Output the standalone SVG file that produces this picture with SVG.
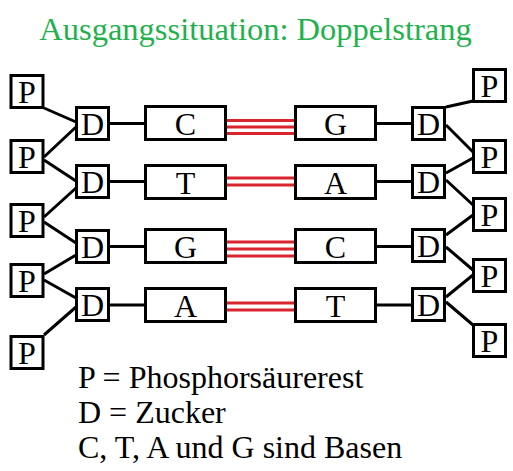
<svg xmlns="http://www.w3.org/2000/svg" width="513" height="471" viewBox="0 0 513 471">
<style>
.b{fill:#fff;stroke:#000;stroke-width:3}
.t{font-family:'Liberation Serif','DejaVu Serif',serif;font-size:32px;fill:#000;text-anchor:middle}
.c{stroke:#000;stroke-width:3;fill:none}
.h{stroke:#d9262e;stroke-width:3;fill:none}
.lg{font-family:'Liberation Serif','DejaVu Serif',serif;font-size:32px;fill:#000}
.ti{font-family:'Liberation Serif','DejaVu Serif',serif;font-size:32.5px;fill:#22b14c;text-anchor:middle}
</style>
<rect width="513" height="471" fill="#fff"/>
<text id="title" class="ti" x="255.5" y="40">Ausgangssituation: Doppelstrang</text>
<g id="connectors">
<path class="c" d="M44,108L76,122M44,157L76,127M44,160L76,181M44,217L76,188M44,222L76,243M44,274L76,255M44,280L76,298M44,335L76,307"/>
<path class="c" d="M110,123.5H144M110,181.5H144M110,246.5H144M110,305H144M377,123.5H411M377,181.5H411M377,246.5H411M377,305H411"/>
<path class="c" d="M446,107L473,101M446,125L473,152M446,173L473,158M446,180L473,205M446,235L473,215M446,247L473,270M446,297L473,275M446,302L473,325"/>
<path class="h" d="M226,120.5H295M226,127H295M226,133.5H295M226,178H295M226,185H295M226,242H295M226,249H295M226,256H295M226,303H295M226,310H295"/>
</g>
<g id="pL1"><rect class="b" x="11" y="75.5" width="32" height="32"/><text class="t" x="27" y="102.5">P</text></g>
<g id="pL2"><rect class="b" x="11" y="140.5" width="32" height="32"/><text class="t" x="27" y="167.5">P</text></g>
<g id="pL3"><rect class="b" x="11" y="204.5" width="32" height="32"/><text class="t" x="27" y="231.5">P</text></g>
<g id="pL4"><rect class="b" x="11" y="264.5" width="32" height="32"/><text class="t" x="27" y="291.5">P</text></g>
<g id="pL5"><rect class="b" x="11" y="336.5" width="32" height="32"/><text class="t" x="27" y="363.5">P</text></g>
<g id="dL1"><rect class="b" x="76.5" y="107.5" width="32" height="32"/><text class="t" x="92.5" y="134.5">D</text></g>
<g id="dL2"><rect class="b" x="76.5" y="165.5" width="32" height="32"/><text class="t" x="92.5" y="192.5">D</text></g>
<g id="dL3"><rect class="b" x="76.5" y="230.5" width="32" height="32"/><text class="t" x="92.5" y="257.5">D</text></g>
<g id="dL4"><rect class="b" x="76.5" y="288.5" width="32" height="32"/><text class="t" x="92.5" y="315.5">D</text></g>
<g id="bL1"><rect class="b" x="145.5" y="106.5" width="80" height="33"/><text class="t" x="185.5" y="134.5">C</text></g>
<g id="bL2"><rect class="b" x="145.5" y="165.5" width="80" height="33"/><text class="t" x="185.5" y="193.5">T</text></g>
<g id="bL3"><rect class="b" x="145.5" y="229.5" width="80" height="33"/><text class="t" x="185.5" y="257.5">G</text></g>
<g id="bL4"><rect class="b" x="145.5" y="288.5" width="80" height="33"/><text class="t" x="185.5" y="316.5">A</text></g>
<g id="bR1"><rect class="b" x="295.5" y="106.5" width="80" height="33"/><text class="t" x="335.5" y="134.5">G</text></g>
<g id="bR2"><rect class="b" x="295.5" y="165.5" width="80" height="33"/><text class="t" x="335.5" y="193.5">A</text></g>
<g id="bR3"><rect class="b" x="295.5" y="229.5" width="80" height="33"/><text class="t" x="335.5" y="257.5">C</text></g>
<g id="bR4"><rect class="b" x="295.5" y="288.5" width="80" height="33"/><text class="t" x="335.5" y="316.5">T</text></g>
<g id="dR1"><rect class="b" x="412.5" y="107.5" width="32" height="32"/><text class="t" x="428.5" y="134.5">D</text></g>
<g id="dR2"><rect class="b" x="412.5" y="165.5" width="32" height="32"/><text class="t" x="428.5" y="192.5">D</text></g>
<g id="dR3"><rect class="b" x="412.5" y="229.5" width="32" height="32"/><text class="t" x="428.5" y="256.5">D</text></g>
<g id="dR4"><rect class="b" x="412.5" y="288.5" width="32" height="32"/><text class="t" x="428.5" y="315.5">D</text></g>
<g id="pR1"><rect class="b" x="473.5" y="69.5" width="32" height="32"/><text class="t" x="489.5" y="96.5">P</text></g>
<g id="pR2"><rect class="b" x="473.5" y="140.5" width="32" height="32"/><text class="t" x="489.5" y="167.5">P</text></g>
<g id="pR3"><rect class="b" x="473.5" y="198.5" width="32" height="32"/><text class="t" x="489.5" y="225.5">P</text></g>
<g id="pR4"><rect class="b" x="473.5" y="259.5" width="32" height="32"/><text class="t" x="489.5" y="286.5">P</text></g>
<g id="pR5"><rect class="b" x="473.5" y="324.5" width="32" height="32"/><text class="t" x="489.5" y="351.5">P</text></g>
<g id="legend">
<text class="lg" x="78" y="388">P = Phosphorsäurerest</text>
<text class="lg" x="78" y="423">D = Zucker</text>
<text class="lg" x="78" y="458">C, T, A und G sind Basen</text>
</g>
</svg>
